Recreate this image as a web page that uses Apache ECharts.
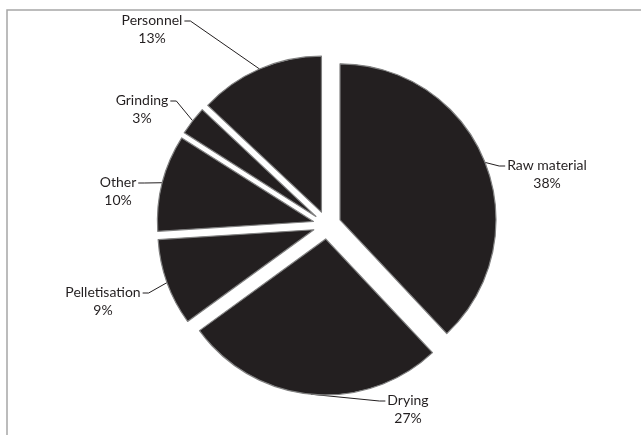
<!DOCTYPE html>
<html>
<head>
<meta charset="utf-8">
<style>
  html, body { margin: 0; padding: 0; background: #ffffff; }
  #chart { width: 641px; height: 435px; }
</style>
<script src="https://cdn.jsdelivr.net/npm/echarts@6/dist/echarts.min.js"></script>
</head>
<body>
<div id="chart"></div>
<script>
// Cost shares, clockwise from 12 o'clock
const categories = ['Raw material', 'Drying', 'Pelletisation', 'Other', 'Grinding', 'Personnel'];
const shares = [38, 27, 9, 10, 3, 13];

// Where each label block sits (centre, px)
const labelCentres = [
  [547, 174],
  [408, 409],
  [103, 301],
  [118, 191],
  [142, 109],
  [152, 29]
];

const CENTER = [327, 225];
const RADIUS = 156;
const EXPLODE = 14;
const LINE_H = 18;
const INK = '#231f20';

const chart = echarts.init(document.getElementById('chart'), null, { renderer: 'canvas' });

const items = categories.map((name, i) => ({ name: name, value: shares[i] }));

const option = {
  animation: false,
  backgroundColor: '#ffffff',
  graphic: [{
    type: 'rect',
    shape: { x: 7, y: 10, width: 700, height: 500 },
    style: { fill: 'none', stroke: '#a6a6a6', lineWidth: 1.5 },
    silent: true,
    z: -1
  }],
  series: [
    {
      // exploded slices
      type: 'pie',
      center: CENTER,
      radius: [0, RADIUS],
      startAngle: 90,
      clockwise: true,
      selectedMode: 'multiple',
      selectedOffset: EXPLODE,
      silent: true,
      emphasis: { disabled: true },
      itemStyle: { color: INK, borderColor: '#808080', borderWidth: 1.2 },
      select: { itemStyle: { color: INK, borderColor: '#808080', borderWidth: 1.2 } },
      label: { show: false },
      labelLine: { show: false },
      data: items.map(d => Object.assign({ selected: true }, d))
    },
    {
      // invisible outer ring whose arc coincides with the exploded rims; carries the labels
      type: 'pie',
      center: CENTER,
      radius: [0, RADIUS + EXPLODE],
      startAngle: 90,
      clockwise: true,
      selectedMode: false,
      silent: true,
      emphasis: { disabled: true },
      itemStyle: { color: 'rgba(0,0,0,0)', borderWidth: 0 },
      label: {
        show: true,
        position: 'outside',
        formatter: p => p.name + '\n' + p.value + '%',
        fontFamily: 'Lato',
        fontSize: 14,
        lineHeight: LINE_H,
        color: INK,
        align: 'center'
      },
      labelLine: {
        show: true,
        length: 10,
        length2: 6,
        lineStyle: { color: INK, width: 1 }
      },
      labelLayout: function (params) {
        const c = labelCentres[params.dataIndex];
        const w = params.labelRect.width;
        const anchor = params.labelLinePoints ? params.labelLinePoints[0] : c;
        const leftSide = c[0] < anchor[0];
        const endX = leftSide ? c[0] + w / 2 + 2 : c[0] - w / 2 - 2;
        const endY = c[1] - LINE_H / 2 + 1;
        const elbowX = leftSide ? endX + 6 : endX - 6;
        return {
          x: c[0],
          y: c[1],
          align: 'center',
          verticalAlign: 'middle',
          labelLinePoints: [anchor, [elbowX, endY], [endX, endY]]
        };
      },
      data: items
    }
  ]
};

chart.setOption(option);
</script>
</body>
</html>
